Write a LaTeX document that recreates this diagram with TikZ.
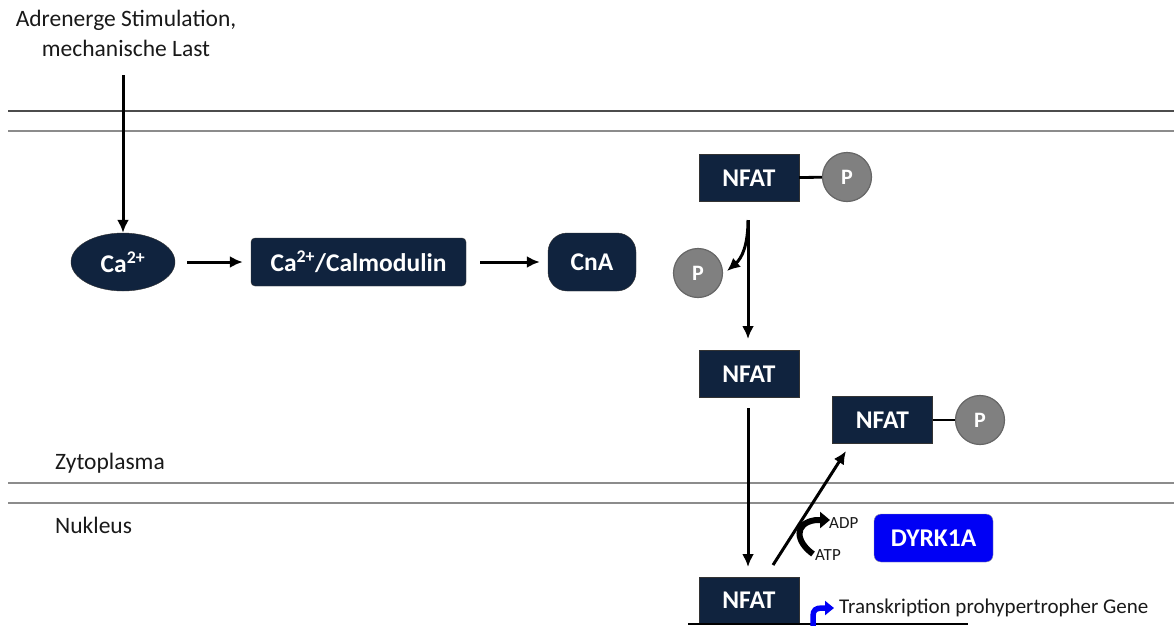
\documentclass[tikz,border=0pt]{standalone}
\usepackage{fontspec}
\setmainfont{Carlito}
\usetikzlibrary{arrows.meta,shapes.geometric}
\definecolor{navy}{RGB}{16,35,62}
\definecolor{pgray}{RGB}{128,128,128}
\definecolor{dblue}{RGB}{0,0,245}
\tikzset{
  box/.style={draw=black!80, fill=navy, text=white, font=\fontsize{25.5}{27}\selectfont\bfseries, inner sep=0pt},
  pcirc/.style={circle, draw=black!60, line width=1.2pt, fill=pgray, text=white, font=\fontsize{22}{22}\selectfont\bfseries, minimum size=49pt, inner sep=0pt},
  arr/.style={line width=3pt, -{Latex[length=13pt,width=12pt]}},
  lbl/.style={font=\fontsize{23.5}{30}\selectfont, text=black!90, inner sep=0pt},
  small/.style={font=\fontsize{17}{17}\selectfont, anchor=west, inner sep=0pt, text=black!90},
}
\begin{document}
\begin{tikzpicture}[x=1pt,y=-1pt]
\useasboundingbox (0,0) rectangle (1174,625);
% membranes
\draw[line width=1.8pt, draw=black!70] (8,111) -- (1174,111);
\draw[line width=2.6pt, draw=black!45] (8,131) -- (1174,131);
\draw[line width=2.6pt, draw=black!45] (8,483) -- (1174,483);
\draw[line width=2.6pt, draw=black!45] (8,503) -- (1174,503);
% labels
\node[lbl, align=center] (stim) at (126,33) {Adrenerge Stimulation,\\mechanische Last};
\node[lbl, anchor=west] (zyto) at (55,463) {Zytoplasma};
\node[lbl, anchor=west] (nuk) at (55,525) {Nukleus};
% calcium pathway
\node[box, ellipse, minimum width=104pt, minimum height=58pt] (ca) at (123,262) {Ca\textsuperscript{2+}};
\node[box, rounded corners=4pt, minimum width=215pt, minimum height=48pt] (calm) at (358.5,262) {Ca\textsuperscript{2+}/Calmodulin};
\node[box, rounded corners=19pt, minimum width=88pt, minimum height=58pt] (cna) at (592,262) {CnA};
\coordinate (stimend) at (123,75);
\draw[arr] (stimend) -- (ca);
\draw[arr] ([xshift=12pt]ca.east) -- ([xshift=-8pt]calm.west);
\draw[arr] ([xshift=14pt]calm.east) -- ([xshift=-8pt]cna.west);
% NFAT nodes
\node[box, minimum width=100pt, minimum height=47pt] (n1) at (749,178) {NFAT};
\node[pcirc] (p1) at (847,177) {P};
\draw[line width=2.8pt] (n1) -- (p1);
\node[pcirc] (p2) at (698,273) {P};
\node[box, minimum width=100pt, minimum height=47pt] (n2) at (749,374) {NFAT};
\node[box, minimum width=100pt, minimum height=47pt] (n3) at (882.5,420) {NFAT};
\node[pcirc] (p3) at (980,420) {P};
\draw[line width=2.8pt] (n3) -- (p3);
\node[box, minimum width=100pt, minimum height=47pt] (n4) at (749,600.5) {NFAT};
\node[box, fill=dblue, draw=black!40, rounded corners=7pt, minimum width=119pt, minimum height=48pt] (dyrk) at (933.5,538) {DYRK1A};
% connectors
\coordinate (s1) at (748,220);
\coordinate (e1) at (748,339);
\draw[arr] (s1) -- (e1);
\draw[arr] (s1) .. controls (748,245) and (742,258) .. (727,271);
\coordinate (s2) at (748,408);
\coordinate (e2) at (748,567);
\draw[arr] (s2) -- (e2);
\coordinate (s3) at (773,565);
\coordinate (e3) at (846,451);
\draw[arr] (s3) -- (e3);
% ADP / ATP
\draw[line width=6pt, -{Triangle[length=10pt,width=16pt]}] (813,554) .. controls (796,542) and (793,523) .. (816,520) -- (830,520);
\node[small] (adp) at (829,523) {ADP};
\node[small] (atp) at (815,555) {ATP};
% gene line and transcription
\coordinate (g1) at (688,624);
\coordinate (g2) at (968,624);
\draw[line width=1.8pt] (g1) -- (g2);
\draw[line width=5.5pt, draw=dblue, -{Triangle[length=9pt,width=14pt]}] (813,628) -- (813,616) .. controls (813,610) and (816,608) .. (822,608) -- (834,608);
\node[font=\fontsize{21}{22}\selectfont, anchor=west, inner sep=0pt, text=black!90] (tr) at (839,608) {Transkription prohypertropher Gene};
\end{tikzpicture}
\end{document}
